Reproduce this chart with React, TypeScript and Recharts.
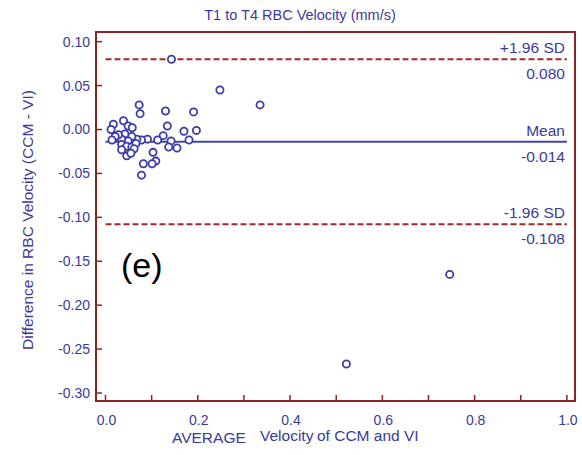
import React from "react";
import {
  ScatterChart,
  Scatter,
  XAxis,
  YAxis,
  ReferenceLine,
  ReferenceArea,
} from "recharts";

// average velocity (x) and difference (y) for each vessel
const avgVelocity = [
  0.143, 0.248, 0.335, 0.073, 0.075, 0.13, 0.191, 0.134, 0.17, 0.197,
  0.181, 0.125, 0.113, 0.142, 0.137, 0.155, 0.103, 0.109, 0.101, 0.082,
  0.078, 0.091, 0.078, 0.068, 0.057, 0.049, 0.042, 0.035, 0.028, 0.021,
  0.017, 0.012, 0.039, 0.049, 0.058, 0.035, 0.046, 0.057, 0.066, 0.035,
  0.062, 0.046, 0.055, 0.014, 0.522, 0.746,
];
const diffVelocity = [
  0.08, 0.045, 0.028, 0.028, 0.018, 0.021, 0.02, 0.004, -0.002, -0.001,
  -0.012, -0.007, -0.012, -0.013, -0.02, -0.021, -0.026, -0.036, -0.039, -0.039,
  -0.052, -0.011, -0.012, -0.011, -0.008, -0.013, -0.005, -0.011, -0.006, -0.008,
  0.006, 0.0, 0.01, 0.004, 0.002, -0.017, -0.019, -0.02, -0.016, -0.023,
  -0.022, -0.03, -0.027, -0.012, -0.267, -0.165,
];

const xTicks = [0, 0.1, 0.2, 0.3, 0.4, 0.5, 0.6, 0.7, 0.8, 0.9, 1.0];
const yTicks = [0.1, 0.05, 0, -0.05, -0.1, -0.15, -0.2, -0.25, -0.3];

const upperSD = 0.08;
const meanDiff = -0.014;
const lowerSD = -0.108;

const X_MIN = -0.0206;
const X_MAX = 1.0175;
const Y_MIN = -0.3091;
const Y_MAX = 0.111;

const FONT = '"Liberation Sans", Arial, sans-serif';
const BLUE = "#3a3a9e";
const RED = "#8a2424";
const DASH_RED = "#a3282c";

const data = avgVelocity.map((x, i) => ({ x, y: diffVelocity[i] }));

const XTick = (props: any) => {
  const { x, y, payload } = props;
  const v = payload.value;
  const even = Math.round(v * 10) % 2 === 0;
  return (
    <g>
      <line x1={x} y1={y} x2={x} y2={y - 6} stroke={RED} strokeWidth={1.5} />
      {even && (
        <text x={x + 1} y={y + 24} textAnchor="middle" fill={BLUE} fontSize={14} fontFamily={FONT}>
          {v.toFixed(1)}
        </text>
      )}
    </g>
  );
};

const YTick = (props: any) => {
  const { x, y, payload } = props;
  return (
    <g>
      <line x1={x} y1={y} x2={x + 6} y2={y} stroke={RED} strokeWidth={1.5} />
      <text x={x - 6} y={y + 5} textAnchor="end" fill={BLUE} fontSize={14} fontFamily={FONT}>
        {payload.value.toFixed(2)}
      </text>
    </g>
  );
};

const refLabel = (top: string, bottom: string) => (props: any) => {
  const { x, y, width } = props.viewBox;
  const ex = x + width - 2;
  return (
    <g fontFamily={FONT} fontSize={15.5} fill={BLUE}>
      <text x={ex} y={y - 6} textAnchor="end">{top}</text>
      <text x={ex} y={y + 20} textAnchor="end">{bottom}</text>
    </g>
  );
};

const Ring = (props: any) => (
  <circle cx={props.cx} cy={props.cy} r={3.6} fill="#fff" stroke="#3c3caa" strokeWidth={1.8} />
);

export default function App() {
  return (
    <div style={{ position: "absolute", left: 0, top: 0, width: 582, height: 455, background: "#fff" }}>
      <div
        style={{
          position: "absolute",
          left: 0,
          width: 600,
          top: 7,
          textAlign: "center",
          fontFamily: FONT,
          fontSize: 14.5,
          color: BLUE,
        }}
      >
        T1 to T4 RBC Velocity (mm/s)
      </div>
      <div
        style={{
          position: "absolute",
          left: 121,
          top: 245,
          fontFamily: FONT,
          fontSize: 34,
          color: "#000",
          lineHeight: "40px",
        }}
      >
        (e)
      </div>
      <ScatterChart width={582} height={455} margin={{ top: 32, right: 7, bottom: 0, left: 0 }}>
        <XAxis
          type="number"
          dataKey="x"
          domain={[X_MIN, X_MAX]}
          ticks={xTicks}
          allowDataOverflow
          height={54}
          tickSize={0}
          tickMargin={0}
          tickLine={false}
          axisLine={false}
          tick={<XTick />}
          interval={0}
          label={{
            content: () => (
              <text fill={BLUE} fontFamily={FONT} fontSize={15.5}>
                <tspan x={172} y={443}>AVERAGE</tspan>
                <tspan x={260} y={441}>Velocity</tspan>
                <tspan x={317} y={441}>of CCM and VI</tspan>
              </text>
            ),
          }}
        />
        <YAxis
          type="number"
          dataKey="y"
          domain={[Y_MIN, Y_MAX]}
          ticks={yTicks}
          allowDataOverflow
          width={96}
          tickSize={0}
          tickMargin={0}
          tickLine={false}
          axisLine={false}
          tick={<YTick />}
          interval={0}
          label={{
            content: () => (
              <text
                x={33}
                y={220}
                transform="rotate(-90 33 220)"
                textAnchor="middle"
                fill={BLUE}
                fontFamily={FONT}
                fontSize={15.5}
              >
                Difference in RBC Velocity (CCM - VI)
              </text>
            ),
          }}
        />
        <ReferenceArea
          x1={X_MIN}
          x2={X_MAX}
          y1={Y_MIN}
          y2={Y_MAX}
          fill="none"
          fillOpacity={0}
          stroke={RED}
          strokeWidth={2}
          ifOverflow="visible"
        />
        <ReferenceLine
          segment={[{ x: 0, y: upperSD }, { x: 1, y: upperSD }]}
          stroke={DASH_RED}
          strokeWidth={2}
          strokeDasharray="6 3"
          label={{ content: refLabel("+1.96 SD", upperSD.toFixed(3)) }}
        />
        <ReferenceLine
          segment={[{ x: 0, y: meanDiff }, { x: 1, y: meanDiff }]}
          stroke="#4646a8"
          strokeWidth={2}
          label={{ content: refLabel("Mean", meanDiff.toFixed(3)) }}
        />
        <ReferenceLine
          segment={[{ x: 0, y: lowerSD }, { x: 1, y: lowerSD }]}
          stroke={DASH_RED}
          strokeWidth={2}
          strokeDasharray="6 3"
          label={{ content: refLabel("-1.96 SD", lowerSD.toFixed(3)) }}
        />
        <Scatter data={data} shape={<Ring />} isAnimationActive={false} />
      </ScatterChart>
    </div>
  );
}
